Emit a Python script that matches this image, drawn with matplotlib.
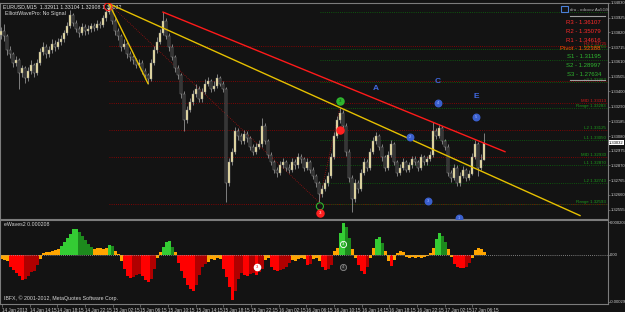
import matplotlib
matplotlib.use("Agg")
import matplotlib.pyplot as plt
import matplotlib.transforms as mtrans
from matplotlib.patches import Rectangle
import numpy as np

plt.rcParams['font.family'] = ['Liberation Sans', 'DejaVu Sans']

# EURUSD M15 candles (open = previous close)
first_open = 1.33800
closes = [
    1.33830, 1.33793, 1.33695, 1.33665, 1.33605, 1.33620, 1.33530, 1.33568, 1.33493, 1.33545,
    1.33590, 1.33530, 1.33605, 1.33680, 1.33718, 1.33665, 1.33695, 1.33740, 1.33718, 1.33755,
    1.33770, 1.33815, 1.33868, 1.33943, 1.33890, 1.33845, 1.33815, 1.33860, 1.33830, 1.33845,
    1.33868, 1.33853, 1.33883, 1.33875, 1.33920, 1.33965, 1.33995, 1.33905, 1.33830, 1.33793,
    1.33718, 1.33740, 1.33665, 1.33643, 1.33620, 1.33590, 1.33605, 1.33545, 1.33515, 1.33485,
    1.33605, 1.33695, 1.33755, 1.33815, 1.33905, 1.33793, 1.33718, 1.33643, 1.33568, 1.33515,
    1.33380, 1.33193, 1.33268, 1.33320, 1.33380, 1.33418, 1.33343, 1.33395, 1.33455, 1.33470,
    1.33418, 1.33440, 1.33493, 1.33455, 1.33418, 1.32743, 1.32893, 1.32968, 1.33118, 1.33080,
    1.33043, 1.33095, 1.33065, 1.33005, 1.32968, 1.33005, 1.33020, 1.33155, 1.33043, 1.32945,
    1.32893, 1.32840, 1.32818, 1.32870, 1.32893, 1.32855, 1.32840, 1.32893, 1.32870, 1.32930,
    1.32915, 1.32855, 1.32893, 1.32840, 1.32795, 1.32743, 1.32668, 1.32705, 1.32743, 1.32795,
    1.32930, 1.33080, 1.33193, 1.33245, 1.33155, 1.32968, 1.32780, 1.32630, 1.32743, 1.32705,
    1.32818, 1.32893, 1.32855, 1.32968, 1.33043, 1.33080, 1.33005, 1.32930, 1.32855, 1.32945,
    1.33020, 1.32893, 1.32818, 1.32855, 1.32893, 1.32840, 1.32870, 1.32915, 1.32893, 1.32855,
    1.32930, 1.32893, 1.32915, 1.32945, 1.33118, 1.33080, 1.33140, 1.33043, 1.33005, 1.32818,
    1.32780, 1.32855, 1.32743, 1.32795, 1.32840, 1.32780, 1.32810, 1.32930, 1.33020, 1.32855,
    1.32911, 1.33032]
highs = [
    1.33860, 1.33883, 1.33810, 1.33720, 1.33680, 1.33650, 1.33635, 1.33590, 1.33580, 1.33570,
    1.33620, 1.33605, 1.33630, 1.33710, 1.33750, 1.33735, 1.33720, 1.33770, 1.33765, 1.33780,
    1.33805, 1.33840, 1.33895, 1.33980, 1.33960, 1.33910, 1.33865, 1.33885, 1.33880, 1.33870,
    1.33890, 1.33885, 1.33910, 1.33900, 1.33945, 1.33990, 1.34025, 1.34010, 1.33920, 1.33850,
    1.33810, 1.33770, 1.33755, 1.33685, 1.33660, 1.33640, 1.33630, 1.33620, 1.33565, 1.33530,
    1.33630, 1.33720, 1.33785, 1.33845, 1.33965, 1.33925, 1.33815, 1.33735, 1.33660, 1.33585,
    1.33530, 1.33400, 1.33295, 1.33350, 1.33410, 1.33450, 1.33435, 1.33425, 1.33485, 1.33500,
    1.33485, 1.33470, 1.33520, 1.33510, 1.33470, 1.33430, 1.32920, 1.32995, 1.33145, 1.33135,
    1.33100, 1.33120, 1.33115, 1.33080, 1.33025, 1.33030, 1.33050, 1.33208, 1.33170, 1.33060,
    1.32965, 1.32910, 1.32860, 1.32900, 1.32920, 1.32910, 1.32880, 1.32920, 1.32915, 1.32960,
    1.32950, 1.32930, 1.32920, 1.32910, 1.32860, 1.32810, 1.32760, 1.32730, 1.32770, 1.32825,
    1.32960, 1.33110, 1.33225, 1.33283, 1.33265, 1.33175, 1.32985, 1.32800, 1.32775, 1.32765,
    1.32845, 1.32920, 1.32915, 1.32995, 1.33070, 1.33110, 1.33095, 1.33020, 1.32945, 1.32970,
    1.33050, 1.33035, 1.32910, 1.32880, 1.32920, 1.32910, 1.32895, 1.32940, 1.32935, 1.32910,
    1.32955, 1.32945, 1.32940, 1.32975, 1.33178, 1.33140, 1.33165, 1.33155, 1.33060, 1.33020,
    1.32840, 1.32880, 1.32870, 1.32820, 1.32865, 1.32855, 1.32835, 1.32960, 1.33050, 1.33035,
    1.32950, 1.33104]
lows = [
    1.33775, 1.33760, 1.33658, 1.33635, 1.33575, 1.33580, 1.33418, 1.33500, 1.33460, 1.33470,
    1.33525, 1.33500, 1.33515, 1.33585, 1.33660, 1.33635, 1.33645, 1.33675, 1.33690, 1.33700,
    1.33730, 1.33755, 1.33800, 1.33850, 1.33865, 1.33820, 1.33790, 1.33800, 1.33805, 1.33810,
    1.33825, 1.33830, 1.33840, 1.33850, 1.33860, 1.33905, 1.33950, 1.33880, 1.33805, 1.33765,
    1.33690, 1.33700, 1.33640, 1.33615, 1.33595, 1.33565, 1.33570, 1.33520, 1.33490, 1.33455,
    1.33470, 1.33590, 1.33675, 1.33740, 1.33800, 1.33770, 1.33690, 1.33620, 1.33540, 1.33490,
    1.33350, 1.33118, 1.33175, 1.33250, 1.33305, 1.33360, 1.33320, 1.33325, 1.33380, 1.33435,
    1.33395, 1.33400, 1.33425, 1.33435, 1.33395, 1.32608, 1.32720, 1.32875, 1.32950, 1.33055,
    1.33020, 1.33025, 1.33040, 1.32980, 1.32945, 1.32950, 1.32985, 1.33005, 1.33020, 1.32920,
    1.32870, 1.32815, 1.32790, 1.32800, 1.32850, 1.32830, 1.32815, 1.32825, 1.32845, 1.32855,
    1.32890, 1.32830, 1.32840, 1.32815, 1.32770, 1.32715, 1.32608, 1.32645, 1.32685, 1.32725,
    1.32780, 1.32915, 1.33065, 1.33175, 1.33130, 1.32940, 1.32750, 1.32540, 1.32610, 1.32675,
    1.32690, 1.32800, 1.32830, 1.32840, 1.32950, 1.33025, 1.32980, 1.32905, 1.32830, 1.32840,
    1.32930, 1.32870, 1.32795, 1.32800, 1.32840, 1.32820, 1.32825, 1.32855, 1.32875, 1.32830,
    1.32840, 1.32870, 1.32875, 1.32900, 1.32930, 1.33060, 1.33065, 1.33020, 1.32980, 1.32795,
    1.32755, 1.32765, 1.32720, 1.32725, 1.32780, 1.32760, 1.32765, 1.32800, 1.32915, 1.32795,
    1.32840, 1.32908]

# eWaves2 histogram
osc = [
    -0.000025, -0.000032, -0.000038, -0.000076, -0.000095, -0.000113, -0.000132, -0.000158, -0.000151, -0.000132,
    -0.000107, -0.000101, -0.000063, -0.000025, 0.000013, 0.000019, 0.000019, 0.000025, 0.000032, 0.000038,
    0.000057, 0.000082, 0.000107, 0.000132, 0.000164, 0.000166, 0.000145, 0.000120, 0.000095, 0.000069,
    0.000050, 0.000038, 0.000044, 0.000044, 0.000038, 0.000044, 0.000063, 0.000057, 0.000025, 0.000006,
    -0.000038, -0.000088, -0.000132, -0.000145, -0.000139, -0.000126, -0.000120, -0.000132, -0.000158, -0.000170,
    -0.000151, -0.000088, -0.000019, 0.000019, 0.000050, 0.000082, 0.000088, 0.000050, 0.000019, -0.000050,
    -0.000101, -0.000145, -0.000189, -0.000214, -0.000227, -0.000189, -0.000126, -0.000076, -0.000057, -0.000044,
    -0.000025, -0.000032, -0.000019, -0.000025, -0.000088, -0.000139, -0.000202, -0.000284, -0.000227, -0.000151,
    -0.000113, -0.000126, -0.000132, -0.000120, -0.000113, -0.000126, -0.000107, -0.000088, -0.000032, -0.000019,
    -0.000076, -0.000095, -0.000101, -0.000095, -0.000088, -0.000076, -0.000050, -0.000032, -0.000038, -0.000025,
    -0.000019, -0.000025, -0.000063, -0.000057, -0.000025, -0.000019, -0.000038, -0.000076, -0.000095, -0.000088,
    -0.000063, 0.000025, 0.000044, 0.000139, 0.000202, 0.000176, 0.000107, 0.000038, -0.000019, -0.000063,
    -0.000101, -0.000120, -0.000076, -0.000019, 0.000044, 0.000101, 0.000113, 0.000076, 0.000025, -0.000038,
    -0.000069, -0.000032, 0.000013, 0.000025, 0.000019, -0.000013, -0.000019, -0.000013, -0.000019, -0.000013,
    -0.000019, -0.000013, -0.000006, 0.000013, 0.000044, 0.000101, 0.000139, 0.000120, 0.000082, 0.000038,
    -0.000013, -0.000057, -0.000076, -0.000082, -0.000082, -0.000076, -0.000050, -0.000019, 0.000032, 0.000044,
    0.000038, 0.000019]

price_ticks = ["1.34030", "1.33925", "1.33820", "1.33715", "1.33610", "1.33505", "1.33400", "1.33290",
               "1.33185", "1.33080", "1.32975", "1.32870", "1.32765", "1.32660", "1.32555"]
osc_ticks = ["0.000207", "0.00", "-0.000296"]
time_labels = ["14 Jan 2013", "14 Jan 14:15", "14 Jan 18:15", "14 Jan 22:15", "15 Jan 02:15",
               "15 Jan 06:15", "15 Jan 10:15", "15 Jan 14:15", "15 Jan 18:15", "15 Jan 22:15",
               "16 Jan 02:15", "16 Jan 06:15", "16 Jan 10:15", "16 Jan 14:15", "16 Jan 18:15",
               "16 Jan 22:15", "17 Jan 02:15", "17 Jan 06:15"]

pivot_names = ["R3", "R2", "R1", "Pivot", "S1", "S2", "S3"]
pivot_values = [1.36107, 1.35079, 1.34616, 1.32388, 1.31195, 1.28997, 1.27634]

red_levels = [1.34033, 1.33725, 1.33470, 1.33313, 1.33125, 1.32930, 1.32593]
green_levels = [1.33965, 1.33703, 1.33620, 1.33463, 1.33283, 1.33050, 1.32870, 1.32743, 1.32593]
tag_names = ["H3", "L3", "u3", "MID", "Range", "L2", "L1", "MID", "L1", "L2", "Range"]
tag_prices = [1.33725, 1.33703, 1.33463, 1.33313, 1.33283, 1.33125, 1.33050, 1.32930, 1.32870, 1.32743, 1.32593]
tag_is_red = [True, False, False, True, False, False, False, False, False, False, False]

wave_letters = ["A", "C", "E"]
wave_letter_bars = [125.0, 145.7, 158.3]
wave_letter_prices = [1.33418, 1.33470, 1.33365]
wave_dot_tags = ["2", "4", "5", "3", "1"]
wave_dot_bars = [136.3, 145.7, 158.3, 142.3, 152.7]
wave_dot_prices = [1.33073, 1.33313, 1.33215, 1.32615, 1.32495]

BG = '#131313'
GREY = '#7c7c7c'
W, H = 625, 312

fig = plt.figure(figsize=(W / 100, H / 100), dpi=100, facecolor=BG)
ax = fig.add_axes([0, 1 - 219 / H, 608 / W, 216 / H], facecolor=BG)
ax2 = fig.add_axes([0, 1 - 304 / H, 608 / W, 84 / H], facecolor=BG)

closes = np.array(closes)
highs = np.array(highs)
lows = np.array(lows)
osc = np.array(osc)
n = len(closes)
x = np.arange(n)
opens = np.concatenate([[first_open], closes[:-1]])

for a in (ax, ax2):
    a.set_xlim(-1 / 3, 607 / 3)
    for s in a.spines.values():
        s.set_color(GREY)
        s.set_linewidth(0.8)
ax.set_ylim(1.324875, 1.340075)
ax2.set_ylim(-0.0003087, 0.0002205)


def mt(px, py):
    # pixel position -> axes fraction of the price panel
    return px / 608, 1 - (py - 3) / 216


def it(px, py):
    return px / 608, 1 - (py - 220) / 84


blend = mtrans.blended_transform_factory(ax.transAxes, ax.transData)

# horizontal levels
ax.hlines(red_levels, 36, 202.3, colors='#a00000', linestyles=(0, (1, 1.6)), lw=0.6)
ax.hlines(green_levels, 106.3, 202.3, colors='#0d6a0d', linestyles=(0, (1, 1.6)), lw=0.6)

# candles
up = closes >= opens
body_lo = np.minimum(opens, closes)
body_h = np.maximum(np.abs(closes - opens), 0.00002)
ax.vlines(x, lows, highs, color='#909090', lw=0.6, zorder=3)
ax.bar(x[up], body_h[up], bottom=body_lo[up], width=0.75, color='#f0e4a4',
       edgecolor='#909090', lw=0.3, zorder=4)
ax.bar(x[~up], body_h[~up], bottom=body_lo[~up], width=0.75, color='#1a1a1a',
       edgecolor='#909090', lw=0.35, zorder=4)

# trend lines
slope = (highs[113] - highs[36]) / (113 - 36)
ax.plot([36, 193], [highs[36], highs[36] + slope * (193 - 36)], color='#e6c000', lw=1.0, zorder=5)
ax.plot([36, 49], [highs[36], lows[49]], color='#e6c000', lw=1.0, zorder=5)
rslope = (highs[144] - highs[54]) / (144 - 54)
ax.plot([54, 168], [highs[54], highs[54] + rslope * (168 - 54)], color='#ff1a1a', lw=1.0, zorder=5)
ax.plot([36, 106, 113], [highs[36], lows[106], highs[113]], color='#a01010', lw=0.6,
        ls=(0, (1, 1.5)), zorder=2)

# elliott marks
ax.scatter([35.7], [1.34003], s=30, facecolors='none', edgecolors='#ff2020', lw=0.8, zorder=6)
ax.scatter([113], [1.33328], s=26, color='#2fb52f', zorder=6)
ax.text(113, 1.33328, "3", color='#123d12', fontsize=3.2, ha='center', va='center', zorder=7)
ax.scatter([113], [1.33125], s=26, color='#ff2020', zorder=6)
ax.scatter([106.3], [1.32578], s=26, facecolors='none', edgecolors='#2fb52f', lw=0.8, zorder=6)
ax.scatter([106.3], [1.32533], s=26, color='#ff2020', zorder=6)
ax.text(106.3, 1.32533, "3", color='white', fontsize=3.2, ha='center', va='center', zorder=7)
ax.scatter(wave_dot_bars, wave_dot_prices, s=22, color='#3a5fcd', zorder=6)
for t, b, p in zip(wave_dot_tags, wave_dot_bars, wave_dot_prices):
    ax.text(b, p, t, color='#9fb4ff', fontsize=3.0, ha='center', va='center', zorder=7)
for t, b, p in zip(wave_letters, wave_letter_bars, wave_letter_prices):
    ax.text(b, p, t, color='#4169e1', fontsize=6, fontweight='bold', ha='center', va='center', zorder=7)

# level tags on the right
for name, p, red in zip(tag_names, tag_prices, tag_is_red):
    ax.text(606 / 608, p, f"{name} {p:.5f}", transform=blend, fontsize=3.2, ha='right',
            va='bottom', color='#d01818' if red else '#1c9a1c', zorder=6)

# pivot table
ax.add_patch(Rectangle(mt(561, 12), 7 / 608, 6 / 216, transform=ax.transAxes,
                       fill=False, edgecolor='#4a80d8', lw=0.8, zorder=8))
ax.text(*mt(570, 10), "dru - odcxov Au5GS", transform=ax.transAxes, fontsize=3.2,
        color='#b0b0b0', va='center', ha='left', zorder=8)
for yy in (16, 80):
    ax.plot([570 / 608, 605 / 608], [mt(0, yy)[1]] * 2, transform=ax.transAxes,
            color='#a0a0a0', lw=0.8, zorder=8)
for k, (name, v) in enumerate(zip(pivot_names, pivot_values)):
    col = '#ff5000' if name == "Pivot" else ('#ff2a2a' if name.startswith("R") else '#2fb52f')
    ax.text(*mt(601, 23 + k * 8.5), f"{name} - {v:.5f}", transform=ax.transAxes, fontsize=4.3,
            color=col, ha='right', va='center', zorder=8)

# titles
ax.text(*mt(3, 7), f"EURUSD,M15  {opens[-1]:.5f} {highs[-1]:.5f} {lows[-1]:.5f} {closes[-1]:.5f}",
        transform=ax.transAxes, fontsize=3.8, color='#e0e0e0', va='center', ha='left')
ax.text(*mt(5, 14), "ElliottWavePro: No Signal", transform=ax.transAxes, fontsize=3.8,
        color='#d8d8d8', va='center', ha='left')

# price axis
ax.yaxis.tick_right()
ax.set_yticks([float(t) for t in price_ticks])
ax.set_yticklabels(price_ticks)
ax.set_xticks([])
ax.tick_params(axis='y', colors=GREY, labelcolor='#d0d0d0', labelsize=3.0, length=1.2,
               width=0.5, pad=0.4)
ax.text(1.002, closes[-1], f"{closes[-1]:.5f}", transform=blend, fontsize=3.0, color='black',
        va='center', ha='left', clip_on=False, zorder=9,
        bbox=dict(facecolor='white', edgecolor='none', pad=0.4))

# oscillator
prev = np.concatenate([[osc[0]], osc[:-1]])
cols = []
for v, pv in zip(osc, prev):
    if abs(v) < 0.000048:
        cols.append('#ffa500')
    elif v > 0:
        cols.append('#34cc34' if v >= pv else '#1d8a1d')
    else:
        cols.append('#ff0000' if v <= pv else '#b00000')
ax2.bar(x, osc, width=1.0, color=cols, lw=0)
ax2.axhline(0, color='#a0a0a0', ls=(0, (1, 1.5)), lw=0.6)
ax2.scatter([85.3], [-0.0000756], s=20, color='white', zorder=5)
ax2.text(85.3, -0.0000756, "3", fontsize=3.0, color='#ff0000', ha='center', va='center', zorder=6)
ax2.scatter([114], [0.0000693], s=20, facecolors='#2fb52f', edgecolors='white', lw=0.6, zorder=5)
ax2.text(114, 0.0000693, "3", fontsize=3.0, color='white', ha='center', va='center', zorder=6)
ax2.scatter([114], [-0.0000756], s=20, facecolors='#2a2a2a', edgecolors='#8a8a8a', lw=0.6, zorder=5)
ax2.text(114, -0.0000756, "4", fontsize=3.0, color='#a0a0a0', ha='center', va='center', zorder=6)
ax2.text(*it(4, 224), "eWaves2 0.000208", transform=ax2.transAxes, fontsize=3.8,
         color='#d8d8d8', va='center', ha='left')
ax2.text(*it(4, 298), "IBFX, \u00a9 2001-2012, MetaQuotes Software Corp.", transform=ax2.transAxes,
         fontsize=3.8, color='#d8d8d8', va='center', ha='left')

ax2.yaxis.tick_right()
ax2.set_yticks([float(t) for t in osc_ticks])
ax2.set_yticklabels(osc_ticks)
ax2.tick_params(axis='y', colors=GREY, labelcolor='#d0d0d0', labelsize=3.0, length=1.2,
                width=0.5, pad=0.4)
ax2.set_xticks(np.arange(len(time_labels)) * 9.22 + 0.33)
ax2.set_xticklabels(time_labels)
ax2.tick_params(axis='x', colors=GREY, labelcolor='#d0d0d0', labelsize=3.3, length=2,
                width=0.5, pad=1)
for lbl in ax2.get_xticklabels():
    lbl.set_ha('left')

fig.savefig('out.png', dpi=100, facecolor=BG)
